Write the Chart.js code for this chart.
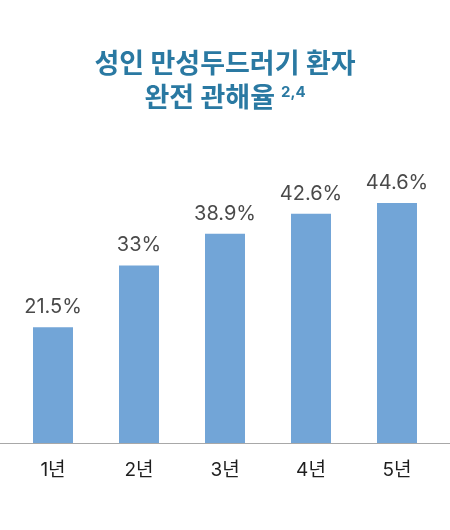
<!DOCTYPE html>
<html>
<head>
<meta charset="utf-8">
<script src="https://cdn.jsdelivr.net/npm/chart.js@4"></script>
<style>
  html, body { margin: 0; padding: 0; background: #fff; }
  #wrap { position: relative; width: 450px; height: 530px; }
  #title {
    position: absolute; left: 0; top: 47px; width: 450px;
    text-align: center; color: #2a79a2;
    font-family: Inter, "Noto Sans CJK KR", sans-serif; font-weight: 700;
    font-size: 27px; line-height: 34px;
  }
  #title sup { font-size: 15px; vertical-align: 10px; margin-left: 6px; line-height: 0; }
  canvas { position: absolute; left: 0; top: 0; }
</style>
</head>
<body>
<div id="wrap">
  <canvas id="myChart" width="450" height="530"></canvas>
  <div id="title">성인 만성두드러기 환자<br>완전 관해율<sup>2,4</sup></div>
</div>
<script>
// chart data
// =======================================================
var years = ["1년", "2년", "3년", "4년", "5년"];
var remission = [21.5, 33, 38.9, 42.6, 44.6];
var valueLabels = ["21.5%", "33%", "38.9%", "42.6%", "44.6%"];

// labels above bars + baseline across the whole width
// =======================================================
var barLabels = {
    id: "barLabels",
    afterDatasetsDraw: function (chart) {
        var ctx = chart.ctx;
        var meta = chart.getDatasetMeta(0);
        ctx.save();
        ctx.font = "20px Inter, 'Noto Sans', sans-serif";
        ctx.fillStyle = "#4a4a4a";
        ctx.textAlign = "center";
        ctx.textBaseline = "alphabetic";
        meta.data.forEach(function (bar, i) {
            ctx.fillText(valueLabels[i], bar.x, bar.y - 14);
        });

        var y0 = Math.round(chart.scales.y.getPixelForValue(0)) + 0.5;
        ctx.strokeStyle = "#a8a8a8";
        ctx.lineWidth = 1;
        ctx.beginPath();
        ctx.moveTo(0, y0);
        ctx.lineTo(chart.width, y0);
        ctx.stroke();
        ctx.restore();
    }
};

var ctx = document.getElementById("myChart");

var myChart = new Chart(ctx, {
    type: "bar",
    data: {
        labels: years,
        datasets: [{
            data: remission,
            backgroundColor: "#72a5d7",
            barPercentage: 0.93,
            categoryPercentage: 0.5
        }]
    },
    options: {
        responsive: false,
        animation: false,
        layout: {
            padding: { top: 174, left: 10, right: 10, bottom: 0 }
        },
        plugins: {
            legend: { display: false },
            tooltip: { enabled: false }
        },
        scales: {
            y: {
                display: false,
                min: 0,
                max: 50
            },
            x: {
                grid: { display: false },
                border: { display: false },
                ticks: {
                    padding: 8,
                    color: "#1e1e1e",
                    font: { family: "Inter, 'Noto Sans CJK KR', sans-serif", size: 19 }
                },
                afterFit: function (scale) {
                    scale.height = 87;
                }
            }
        }
    },
    plugins: [barLabels]
});
</script>
</body>
</html>
